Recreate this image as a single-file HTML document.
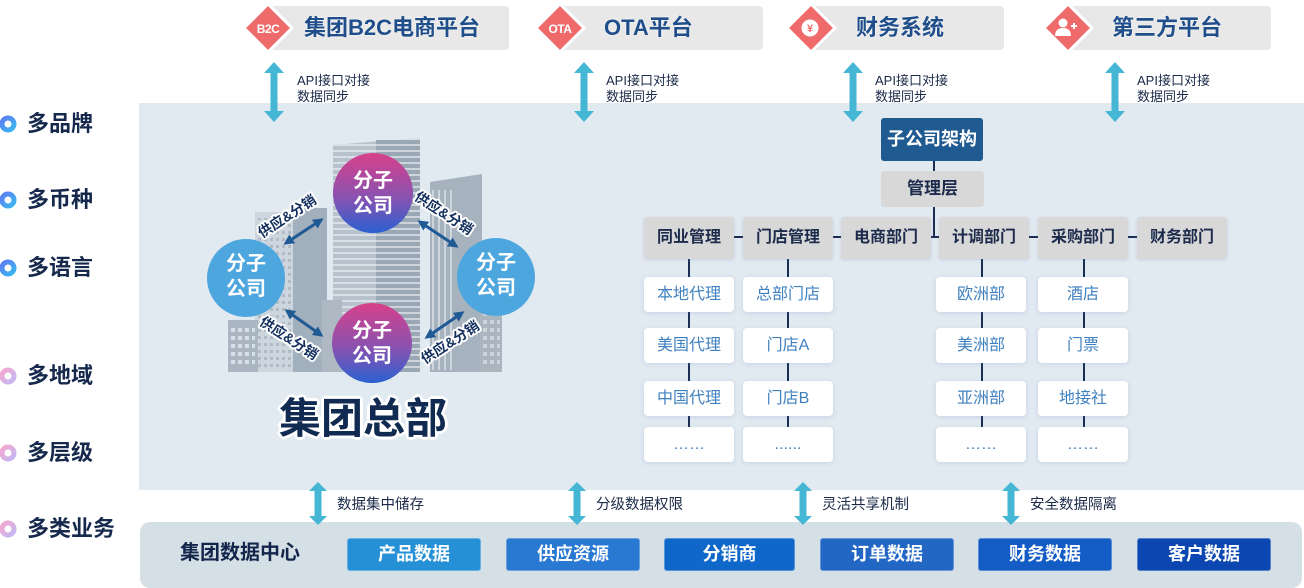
<!DOCTYPE html>
<html><head><meta charset="utf-8">
<style>
*{margin:0;padding:0;box-sizing:border-box}
body{width:1304px;height:584px;position:relative;background:#fff;overflow:hidden;font-family:"Liberation Sans","Noto Sans CJK SC",sans-serif}
.panel{position:absolute;left:139px;top:103px;width:1165px;height:387px;background:#e1e9f1}
.bpanel{position:absolute;left:140px;top:522px;width:1162px;height:66px;background:#d5dfe6;border-radius:10px}
.gbox{position:absolute;top:6px;height:44px;background:#e8e8e8;border-radius:4px}
.ttl{position:absolute;top:13px;font-size:22px;font-weight:bold;color:#1f4e8a;line-height:30px;white-space:nowrap;text-shadow:0 0 2px #fff}
.lbl{position:absolute;font-size:13px;color:#1b2a48;line-height:16px;white-space:nowrap}
.side{position:absolute;left:27px;font-size:22px;font-weight:bold;color:#16294d;line-height:28px;white-space:nowrap}
.dept{position:absolute;top:217px;height:42px;width:90px;background:#d8d8d8;border-radius:3px;font-size:16px;font-weight:bold;color:#1c2b4c;text-align:center;line-height:42px;box-shadow:0 1px 3px rgba(120,140,170,.25)}
.sub{position:absolute;width:90px;height:35px;background:#fff;border-radius:4px;font-size:16px;color:#3f80bf;text-align:center;line-height:35px;box-shadow:0 1px 4px rgba(120,150,190,.25)}
.dbox{position:absolute;top:538px;height:33px;width:134px;border-radius:3px;color:#fff;font-size:18px;font-weight:bold;text-align:center;line-height:31px;border:1px solid rgba(255,255,255,.3)}
.blbl{position:absolute;top:496px;font-size:14.5px;color:#1b2a48;line-height:18px;white-space:nowrap}
.circ{position:absolute;border-radius:50%;color:#fff;font-size:20px;font-weight:bold;text-align:center;line-height:25px}
.sl{position:absolute;font-size:14px;font-weight:bold;color:#14305e;white-space:nowrap;line-height:16px;text-shadow:2px 0 #fff,-2px 0 #fff,0 2px #fff,0 -2px #fff,1.5px 1.5px #fff,-1.5px -1.5px #fff,1.5px -1.5px #fff,-1.5px 1.5px #fff}
.hq{position:absolute;left:279px;top:394px;font-size:42px;font-weight:bold;color:#112a52;line-height:50px;white-space:nowrap;letter-spacing:0;text-shadow:3px 0 #fff,-3px 0 #fff,0 3px #fff,0 -3px #fff,2px 2px #fff,-2px -2px #fff,2px -2px #fff,-2px 2px #fff}
</style></head><body>

<div class="panel"></div>
<div class="bpanel"></div>

<!-- top gray boxes -->
<div class="gbox" style="left:268px;width:241px"></div>
<div class="gbox" style="left:560px;width:203px"></div>
<div class="gbox" style="left:812px;width:192px"></div>
<div class="gbox" style="left:1067px;width:204px"></div>

<svg style="position:absolute;left:0;top:0" width="1304" height="584" viewBox="0 0 1304 584">
<defs>
<pattern id="hs" width="10" height="6" patternUnits="userSpaceOnUse"><rect width="10" height="2" fill="#eef2f6" opacity=".6"/></pattern>
<pattern id="vs" width="6" height="10" patternUnits="userSpaceOnUse"><rect width="2" height="10" fill="#eef2f6" opacity=".55"/></pattern>
<pattern id="win" width="6" height="7" patternUnits="userSpaceOnUse"><rect width="3" height="3" fill="#8d9aa8"/></pattern>
<pattern id="win2" width="7" height="8" patternUnits="userSpaceOnUse"><rect width="4" height="4" fill="#e3e9ef"/></pattern>
<linearGradient id="gb" x1="0" y1="0" x2="1" y2="1"><stop offset="0" stop-color="#5b7ef2"/><stop offset="1" stop-color="#3bb8f0"/></linearGradient>
<linearGradient id="gp" x1="0" y1="0" x2="1" y2="1"><stop offset="0" stop-color="#f4a8cf"/><stop offset="1" stop-color="#c3b7f5"/></linearGradient>
<marker id="ah" markerWidth="3.5" markerHeight="3.5" refX="2.5" refY="1.75" orient="auto-start-reverse" markerUnits="strokeWidth"><path d="M0,0 L3.5,1.75 L0,3.5 z" fill="#1f5a95"/></marker>
</defs>

<!-- side bullets -->
<g fill="#fff" stroke-width="5">
<circle cx="8" cy="124" r="6" stroke="url(#gb)"/>
<circle cx="8" cy="200" r="6" stroke="url(#gb)"/>
<circle cx="8" cy="268" r="6" stroke="url(#gb)"/>
<circle cx="8" cy="376" r="6" stroke="url(#gp)"/>
<circle cx="8" cy="453" r="6" stroke="url(#gp)"/>
<circle cx="8" cy="529" r="6" stroke="url(#gp)"/>
</g>

<!-- diamonds -->
<g fill="#ef6a6a" stroke="#fff" stroke-width="3">
<polygon points="268,4 292,28 268,52 244,28"/>
<polygon points="560,4 584,28 560,52 536,28"/>
<polygon points="811,4 835,28 811,52 787,28"/>
<polygon points="1068,4 1092,28 1068,52 1044,28"/>
</g>
<text x="268" y="33" font-family="Liberation Sans, sans-serif" font-size="12" font-weight="bold" fill="#fff" text-anchor="middle" letter-spacing="-0.5">B2C</text>
<text x="560" y="33" font-family="Liberation Sans, sans-serif" font-size="12" font-weight="bold" fill="#fff" text-anchor="middle" letter-spacing="-0.5">OTA</text>
<circle cx="810" cy="28" r="8.5" fill="#fff"/>
<text x="810" y="32" font-family="Liberation Sans, sans-serif" font-size="11" font-weight="bold" fill="#ef6a6a" text-anchor="middle">¥</text>
<circle cx="1063" cy="23" r="4.5" fill="#fff"/>
<path d="M1055,36 Q1055,28 1063,28 Q1071,28 1071,36 Z" fill="#fff"/>
<path d="M1071,26 h6 M1074,23 v6" stroke="#fff" stroke-width="2"/>

<!-- cyan arrows -->
<g fill="#45b6d4">
<polygon points="274,62 284,73 277.5,73 277.5,111 284,111 274,122 264,111 270.5,111 270.5,73 264,73"/>
<polygon points="584,62 594,73 587.5,73 587.5,111 594,111 584,122 574,111 580.5,111 580.5,73 574,73"/>
<polygon points="853,62 863,73 856.5,73 856.5,111 863,111 853,122 843,111 849.5,111 849.5,73 843,73"/>
<polygon points="1115,62 1125,73 1118.5,73 1118.5,111 1125,111 1115,122 1105,111 1111.5,111 1111.5,73 1105,73"/>
<polygon points="318,482 327,491 321.5,491 321.5,516 327,516 318,525 309,516 314.5,516 314.5,491 309,491"/>
<polygon points="577,482 586,491 580.5,491 580.5,516 586,516 577,525 568,516 573.5,516 573.5,491 568,491"/>
<polygon points="803,482 812,491 806.5,491 806.5,516 812,516 803,525 794,516 799.5,516 799.5,491 794,491"/>
<polygon points="1011,482 1020,491 1014.5,491 1014.5,516 1020,516 1011,525 1002,516 1007.5,516 1007.5,491 1002,491"/>
</g>

<!-- buildings -->
<rect x="255" y="212" width="42" height="160" fill="#cdd6de"/>
<rect x="257" y="218" width="38" height="150" fill="url(#win)" opacity=".45"/>
<rect x="293" y="208" width="34" height="164" fill="#a2afbc"/>
<rect x="228" y="320" width="30" height="52" fill="#aab6c2"/>
<rect x="231" y="326" width="24" height="40" fill="url(#win2)" opacity=".8"/>
<polygon points="333,145 420,138 420,372 333,372" fill="#b7c2cc"/>
<rect x="376" y="140" width="44" height="232" fill="#9aa8b5"/>
<polygon points="333,145 420,138 420,372 333,372" fill="url(#hs)"/>
<rect x="322" y="300" width="20" height="72" fill="#aeb9c4"/>
<polygon points="430,182 482,174 482,372 430,372" fill="#a6b2be"/>
<rect x="432" y="190" width="24" height="180" fill="url(#vs)"/>
<rect x="480" y="307" width="22" height="65" fill="#aab5c0"/>
<rect x="482" y="312" width="18" height="56" fill="url(#win2)" opacity=".6"/>

<!-- circle arrows -->
<g stroke="#1f5a95" stroke-width="3" marker-start="url(#ah)" marker-end="url(#ah)">
<line x1="286" y1="243" x2="321" y2="220"/>
<line x1="420" y1="222" x2="456" y2="246"/>
<line x1="287" y1="311" x2="321" y2="335"/>
<line x1="427" y1="337" x2="462" y2="313"/>
</g>

<!-- org chart lines -->
<g stroke="#1a2d52" stroke-width="2">
<line x1="934" y1="161" x2="934" y2="171"/>
<line x1="934" y1="207" x2="934" y2="237"/>
<line x1="734" y1="237" x2="743" y2="237"/>
<line x1="833" y1="237" x2="841" y2="237"/>
<line x1="930" y1="237" x2="939" y2="237"/>
<line x1="1029" y1="237" x2="1038" y2="237"/>
<line x1="1128" y1="237" x2="1137" y2="237"/>
<line x1="689" y1="259" x2="689" y2="427"/>
<line x1="788" y1="259" x2="788" y2="427"/>
<line x1="982" y1="259" x2="982" y2="427"/>
<line x1="1084" y1="259" x2="1084" y2="427"/>
</g>
</svg>

<!-- titles -->
<div class="ttl" style="left:304px">集团B2C电商平台</div>
<div class="ttl" style="left:604px">OTA平台</div>
<div class="ttl" style="left:856px">财务系统</div>
<div class="ttl" style="left:1112px">第三方平台</div>

<div class="lbl" style="left:297px;top:73px">API接口对接</div>
<div class="lbl" style="left:297px;top:89px">数据同步</div>
<div class="lbl" style="left:606px;top:73px">API接口对接</div>
<div class="lbl" style="left:606px;top:89px">数据同步</div>
<div class="lbl" style="left:875px;top:73px">API接口对接</div>
<div class="lbl" style="left:875px;top:89px">数据同步</div>
<div class="lbl" style="left:1137px;top:73px">API接口对接</div>
<div class="lbl" style="left:1137px;top:89px">数据同步</div>

<!-- side labels -->
<div class="side" style="top:110px">多品牌</div>
<div class="side" style="top:186px">多币种</div>
<div class="side" style="top:254px">多语言</div>
<div class="side" style="top:362px">多地域</div>
<div class="side" style="top:439px">多层级</div>
<div class="side" style="top:515px">多类业务</div>

<!-- circles -->
<div class="circ" style="left:333px;top:153px;width:80px;height:80px;padding-top:16px;background:linear-gradient(180deg,#d8408a 0%,#8a52b0 55%,#2b60d0 100%)">分子<br>公司</div>
<div class="circ" style="left:332px;top:303px;width:80px;height:80px;padding-top:16px;background:linear-gradient(180deg,#d8408a 0%,#8a52b0 55%,#2b60d0 100%)">分子<br>公司</div>
<div class="circ" style="left:207px;top:239px;width:78px;height:78px;padding-top:13px;background:#4ea6de">分子<br>公司</div>
<div class="circ" style="left:457px;top:238px;width:78px;height:78px;padding-top:13px;background:#4ea6de">分子<br>公司</div>

<div class="sl" style="left:254px;top:208px;transform:rotate(-33deg)">供应&amp;分销</div>
<div class="sl" style="left:411px;top:205px;transform:rotate(33deg)">供应&amp;分销</div>
<div class="sl" style="left:256px;top:330px;transform:rotate(33deg)">供应&amp;分销</div>
<div class="sl" style="left:417px;top:334px;transform:rotate(-33deg)">供应&amp;分销</div>

<div class="hq">集团总部</div>

<!-- org chart -->
<div style="position:absolute;left:881px;top:118px;width:102px;height:43px;background:#1f5a91;border-radius:3px;color:#fff;font-size:18px;font-weight:bold;text-align:center;line-height:43px">子公司架构</div>
<div style="position:absolute;left:881px;top:171px;width:103px;height:36px;background:#d8d8d8;border-radius:3px;color:#1c2b4c;font-size:17px;font-weight:bold;text-align:center;line-height:36px">管理层</div>

<div class="dept" style="left:644px">同业管理</div>
<div class="dept" style="left:743px">门店管理</div>
<div class="dept" style="left:841px">电商部门</div>
<div class="dept" style="left:939px">计调部门</div>
<div class="dept" style="left:1038px">采购部门</div>
<div class="dept" style="left:1137px">财务部门</div>

<div class="sub" style="left:644px;top:277px">本地代理</div>
<div class="sub" style="left:644px;top:328px">美国代理</div>
<div class="sub" style="left:644px;top:381px">中国代理</div>
<div class="sub" style="left:644px;top:427px">……</div>

<div class="sub" style="left:743px;top:277px">总部门店</div>
<div class="sub" style="left:743px;top:328px">门店A</div>
<div class="sub" style="left:743px;top:381px">门店B</div>
<div class="sub" style="left:743px;top:427px">......</div>

<div class="sub" style="left:936px;top:277px">欧洲部</div>
<div class="sub" style="left:936px;top:328px">美洲部</div>
<div class="sub" style="left:936px;top:381px">亚洲部</div>
<div class="sub" style="left:936px;top:427px">……</div>

<div class="sub" style="left:1038px;top:277px">酒店</div>
<div class="sub" style="left:1038px;top:328px">门票</div>
<div class="sub" style="left:1038px;top:381px">地接社</div>
<div class="sub" style="left:1038px;top:427px">……</div>

<!-- bottom labels -->
<div class="blbl" style="left:337px">数据集中储存</div>
<div class="blbl" style="left:596px">分级数据权限</div>
<div class="blbl" style="left:822px">灵活共享机制</div>
<div class="blbl" style="left:1030px">安全数据隔离</div>

<div style="position:absolute;left:180px;top:539px;font-size:20px;font-weight:bold;color:#12254a;line-height:28px;white-space:nowrap">集团数据中心</div>

<div class="dbox" style="left:347px;background:#2690d6">产品数据</div>
<div class="dbox" style="left:506px;background:#2979d2">供应资源</div>
<div class="dbox" style="left:664px;width:131px;background:#0f68c9">分销商</div>
<div class="dbox" style="left:820px;background:#2367c5">订单数据</div>
<div class="dbox" style="left:978px;background:#135bc5">财务数据</div>
<div class="dbox" style="left:1137px;background:#0c47b1">客户数据</div>

</body></html>
